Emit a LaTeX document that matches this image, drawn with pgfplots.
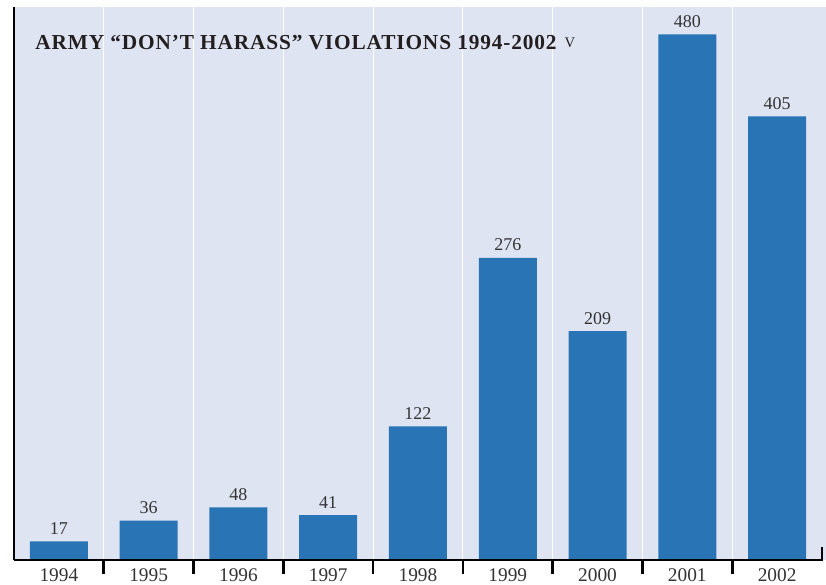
\documentclass[border=0pt]{standalone}
\usepackage{pgfplots}
\pgfplotsset{compat=1.18}
\usepackage{fontspec}
\setmainfont{Liberation Serif}
\definecolor{bg}{HTML}{DFE4F3}
\definecolor{barc}{HTML}{2874B5}
\definecolor{txt}{HTML}{333333}
\definecolor{ttl}{HTML}{231F20}
\begin{document}
\begin{tikzpicture}
\path[use as bounding box] (-10.5pt,-18.75pt) rectangle (609pt,420pt);
\fill[bg] (0,0) rectangle (609pt,414.75pt);
\begin{axis}[
  at={(0,0)}, anchor=south west,
  scale only axis, width=606pt, height=414.75pt,
  xmin=-0.5, xmax=8.5, ymin=0, ymax=505,
  axis line style={draw=none},
  ytick=\empty,
  xtick={0,...,8},
  xticklabels={1994,1995,1996,1997,1998,1999,2000,2001,2002},
  major tick length=0pt,
  extra x ticks={0.5,1.5,2.5,3.5,4.5,5.5,6.5,7.5},
  extra x tick labels={},
  extra x tick style={grid=major},
  major grid style={white, line width=0.75pt},
  xticklabel style={font=\fontsize{14.5}{14.5}\selectfont, text=txt, inner sep=0pt, yshift=-6pt},
  /pgf/number format/assume math mode=true,
  ybar, bar width=43.5pt,
  nodes near coords,
  nodes near coords style={font=\fontsize{13.5}{13.5}\selectfont, text=txt, inner sep=0pt, anchor=south, yshift=5pt},
  clip=false,
]
\addplot[fill=barc, draw=none] coordinates {(0,17) (1,36) (2,48) (3,41) (4,122) (5,276) (6,209) (7,480) (8,405)};
\draw[black, line width=2pt] (axis cs:-0.5,0) -- (axis cs:8.5,0) -- ++(0pt,9.75pt);
\draw[black, line width=2pt] (rel axis cs:0,0) -- (rel axis cs:0,1);
\pgfplotsinvokeforeach{0.5,1.5,2.5,3.5,4.5,5.5,6.5,7.5}{\draw[black, line width=2pt] (axis cs:#1,0) -- ++(0pt,-10.5pt);}
\node[anchor=base west, inner sep=0pt, text=ttl, font=\fontsize{16}{16}\selectfont\bfseries\addfontfeatures{LetterSpace=4}] at ([shift={(15.75pt,-32.25pt)}]rel axis cs:0,1) {ARMY “DON’T HARASS” VIOLATIONS 1994-2002\hspace{6pt}\raisebox{1.5pt}{\fontsize{11}{11}\selectfont\mdseries V}};
\end{axis}
\end{tikzpicture}
\end{document}
